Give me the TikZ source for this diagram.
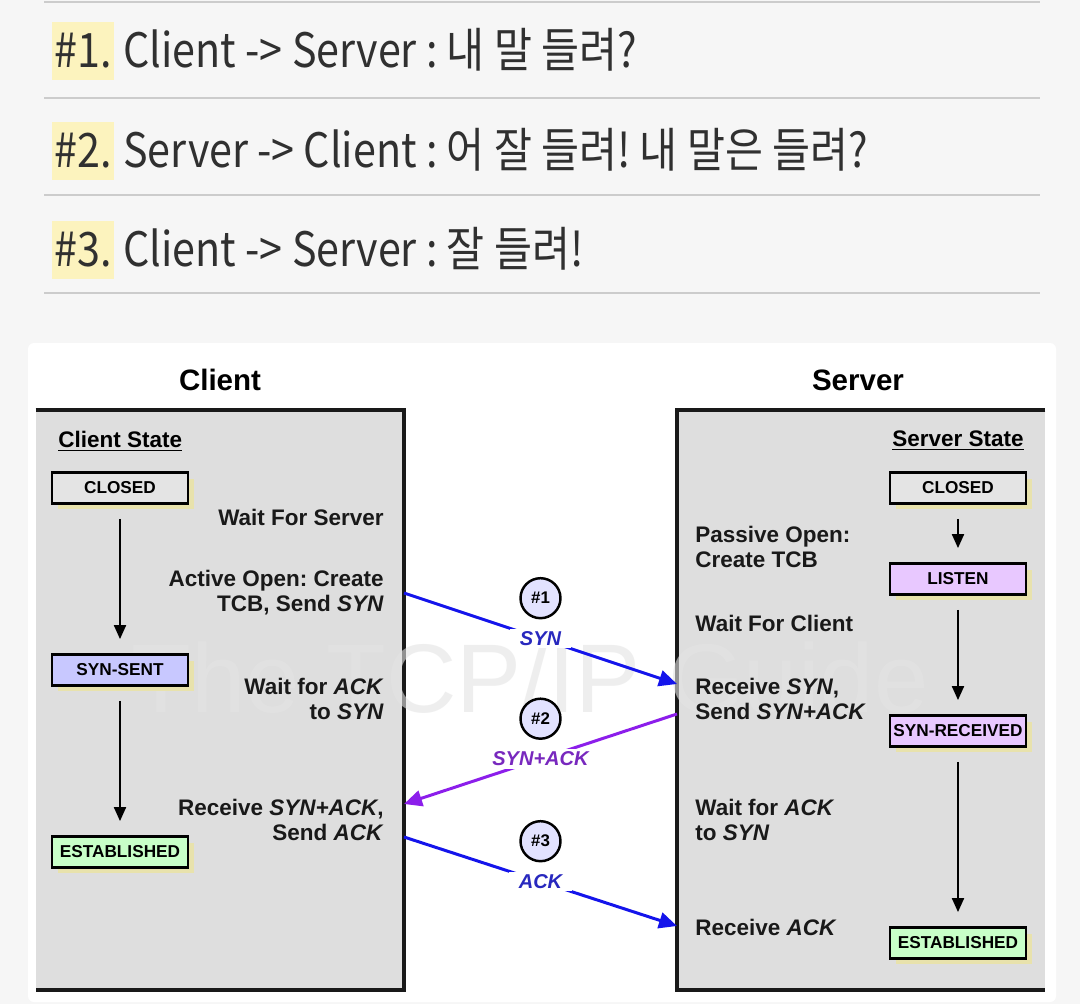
\documentclass[tikz,border=0pt]{standalone}
\usepackage{fontspec}
\setmainfont{Liberation Sans}
\newfontfamily\kofont[FakeStretch=0.87]{Noto Sans CJK KR}
\usepackage{tikz}
\usetikzlibrary{arrows, arrows.meta, positioning, shadows, calc}

\definecolor{pagebg}{RGB}{246,246,246}
\definecolor{rulegray}{RGB}{204,204,204}
\definecolor{hlyellow}{RGB}{252,243,190}
\definecolor{inkgray}{RGB}{48,48,48}
\definecolor{panelgray}{RGB}{222,222,222}
\definecolor{closedgray}{RGB}{228,228,228}
\definecolor{sentblue}{RGB}{200,200,255}
\definecolor{rcvpurple}{RGB}{232,200,255}
\definecolor{estgreen}{RGB}{200,255,200}
\definecolor{shadowyel}{RGB}{232,226,172}
\definecolor{wmark}{RGB}{228,228,228}
\definecolor{synblue}{RGB}{20,20,235}
\definecolor{ackpurple}{RGB}{140,30,235}
\definecolor{lblblue}{RGB}{40,40,190}
\definecolor{lblpurple}{RGB}{120,40,190}
\definecolor{circfill}{RGB}{226,226,255}

\frenchspacing

\begin{document}
\begin{tikzpicture}[
    % 1. 스타일 정의
    x=0.02cm, y=-0.02cm, >=stealth,
    hl/.style={fill=hlyellow, inner xsep=0.04cm, inner ysep=0pt, minimum height=1.16cm, text=inkgray, font=\kofont\fontsize{27}{30}\selectfont},
    kotext/.style={inner sep=0pt, text=inkgray, font=\kofont\fontsize{27}{30}\selectfont},
    rulerline/.style={rulegray, line width=1.7pt},
    panel/.style={fill=panelgray, minimum width=7.36cm, minimum height=11.6cm, inner sep=0pt},
    rim/.style={line width=2.3pt, black!90},
    title/.style={font=\bfseries\fontsize{16.8}{18}\selectfont},
    stathead/.style={inner sep=0pt, font=\bfseries\fontsize{12.8}{14}\selectfont},
    desc/.style={inner sep=0pt, text=black!90, font=\bfseries\fontsize{12.8}{14.2}\selectfont},
    stbox/.style={draw, line width=1.6pt, minimum width=2.72cm, minimum height=0.62cm, inner sep=0pt, font=\bfseries\fontsize{9.8}{10}\selectfont,
        drop shadow={shadow xshift=0.12cm, shadow yshift=-0.12cm, fill=shadowyel, opacity=1}},
    stflow/.style={-{Triangle[length=0.28cm, width=0.24cm]}, line width=1.1pt, shorten <=0.28cm, shorten >=0.28cm},
    msg/.style={-{Triangle[length=0.36cm, width=0.32cm]}, line width=1.7pt},
    msglbl/.style={fill=white, inner xsep=0.2cm, inner ysep=0.05cm, font=\bfseries\itshape\fontsize{11.4}{12}\selectfont},
    numcirc/.style={draw, circle, line width=1.4pt, fill=circfill, minimum size=0.8cm, inner sep=0pt, font=\bfseries\fontsize{9.6}{10}\selectfont},
    watermark/.style={text=wmark, text opacity=0.6, font=\fontsize{55.5}{60}\selectfont}
]

    \useasboundingbox[fill=pagebg] (0,0) rectangle (1080,1004);

    % =================================================================
    % I. 상단 설명 (3-way handshake 요약)
    % =================================================================
    \draw[rulerline] (44,2) -- (1040,2);
    \draw[rulerline] (44,98) -- (1040,98);
    \draw[rulerline] (44,195) -- (1040,195);
    \draw[rulerline] (44,293) -- (1040,293);

    \node[hl, anchor=west] (H1) at (52,51) {\#1.};
    \node[kotext, base right=0.18cm of H1] (L1) {Client -> Server : 내 말 들려?};
    \node[hl, anchor=west] (H2) at (52,151) {\#2.};
    \node[kotext, base right=0.18cm of H2] (L2) {Server -> Client : 어 잘 들려! 내 말은 들려?};
    \node[hl, anchor=west] (H3) at (52,250) {\#3.};
    \node[kotext, base right=0.18cm of H3] (L3) {Client -> Server : 잘 들려!};

    % =================================================================
    % II. Client / Server 패널
    % =================================================================
    \fill[white, rounded corners=0.12cm] (28,343) rectangle (1056,1002);

    \node[title] (CliTitle) at (220,380) {Client};
    \node[title] (SrvTitle) at (858,380) {Server};

    \node[panel] (CliBox) at (220,700) {};
    \draw[rim] (CliBox.north west) -- (CliBox.north east) -- (CliBox.south east) -- (CliBox.south west);
    \node[panel] (SrvBox) at (861,700) {};
    \draw[rim] (SrvBox.north east) -- (SrvBox.north west) -- (SrvBox.south west) -- (SrvBox.south east);

    \node[watermark] (Wm) at (530,678) {The TCP/IP Guide};

    % =================================================================
    % III. 상태 (State) 및 전이
    % =================================================================
    \node[stathead, anchor=west] (CliHead) at (58,441) {\underline{Client State}};
    \node[stbox, fill=closedgray] (CliClosed) at (120,488) {CLOSED};
    \node[stbox, fill=sentblue] (CliSynSent) at (120,670) {SYN-SENT};
    \node[stbox, fill=estgreen] (CliEst) at (120,852) {ESTABLISHED};

    \node[stathead] (SrvHead) at (958,441) {\underline{Server State}};
    \node[stbox, fill=closedgray] (SrvClosed) at (958,488) {CLOSED};
    \node[stbox, fill=rcvpurple] (SrvListen) at (958,579) {LISTEN};
    \node[stbox, fill=rcvpurple] (SrvSynRcvd) at (958,731) {SYN-RECEIVED};
    \node[stbox, fill=estgreen] (SrvEst) at (958,943) {ESTABLISHED};

    \draw[stflow] (CliClosed) -- (CliSynSent);
    \draw[stflow] (CliSynSent) -- (CliEst);
    \draw[stflow] (SrvClosed) -- (SrvListen);
    \draw[stflow] (SrvListen) -- (SrvSynRcvd);
    \draw[stflow] (SrvSynRcvd) -- (SrvEst);

    % 동작 설명
    \node[desc, anchor=east] (CliWait) at (384,517) {Wait For Server};
    \node[desc, anchor=east, align=right] (CliActive) at (384,593) {Active Open: Create\\TCB, Send \textit{SYN}};
    \node[desc, anchor=east, align=right] (CliWaitAck) at (384,699) {Wait for \textit{ACK}\\to \textit{SYN}};
    \node[desc, anchor=east, align=right] (CliRcv) at (384,820) {Receive \textit{SYN+ACK},\\Send \textit{ACK}};

    \node[desc, anchor=west, align=left] (SrvPassive) at (695,547) {Passive Open:\\Create TCB};
    \node[desc, anchor=west] (SrvWait) at (695,623) {Wait For Client};
    \node[desc, anchor=west, align=left] (SrvRcvSyn) at (695,699) {Receive \textit{SYN},\\Send \textit{SYN+ACK}};
    \node[desc, anchor=west, align=left] (SrvWaitAck) at (695,820) {Wait for \textit{ACK}\\to \textit{SYN}};
    \node[desc, anchor=west] (SrvRcvAck) at (695,927) {Receive \textit{ACK}};

    % =================================================================
    % IV. 메시지 흐름 (SYN, SYN+ACK, ACK)
    % =================================================================
    \coordinate (c1) at (404,593);
    \coordinate (s1) at (677,684);
    \coordinate (s2) at (677,714);
    \coordinate (c2) at (404,804);
    \coordinate (c3) at (404,837);
    \coordinate (s3) at (677,926);

    \draw[msg, synblue] (c1) -- node[msglbl, text=lblblue] (SynLbl) {SYN} (s1);
    \draw[msg, ackpurple] (s2) -- node[msglbl, text=lblpurple] (SaLbl) {SYN+ACK} (c2);
    \draw[msg, synblue] (c3) -- node[msglbl, text=lblblue] (AckLbl) {ACK} (s3);

    \node[numcirc, above=0.16cm of SynLbl] (N1) {\#1};
    \node[numcirc, above=0.16cm of SaLbl] (N2) {\#2};
    \node[numcirc, above=0.16cm of AckLbl] (N3) {\#3};

\end{tikzpicture}
\end{document}
